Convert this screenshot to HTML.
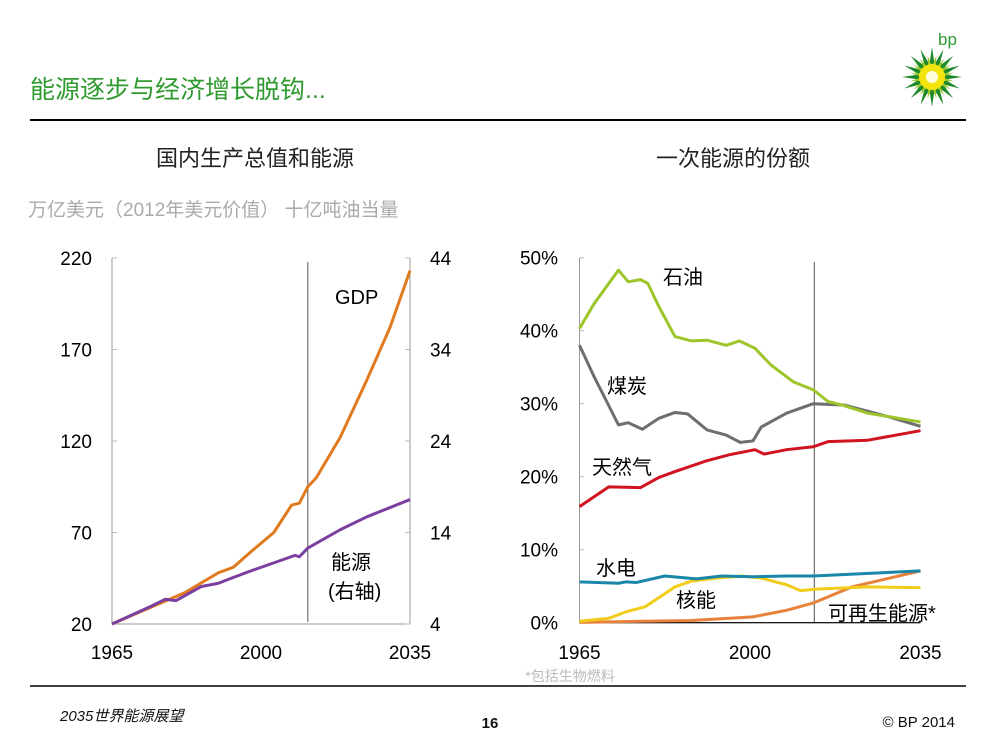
<!DOCTYPE html>
<html><head><meta charset="utf-8">
<style>
body{margin:0;width:1000px;height:750px;background:#fff;overflow:hidden;font-family:"Liberation Sans","Noto Sans CJK SC",sans-serif;}
svg{position:absolute;left:0;top:0}
</style></head>
<body>
<svg id="s" width="1000" height="750" xmlns="http://www.w3.org/2000/svg" font-family="Liberation Sans, Noto Sans CJK SC, sans-serif">
<text x="30" y="98" font-size="25" fill="#2f9a2f">能源逐步与经济增长脱钩...</text>
<g id="logo"></g>
<text x="938" y="45" font-size="17" fill="#2f9a2f">bp</text>
<line x1="30" y1="120" x2="966" y2="120" stroke="#000" stroke-width="2"/>
<text x="255" y="166" font-size="22" text-anchor="middle" fill="#222">国内生产总值和能源</text>
<text x="733" y="166" font-size="22" text-anchor="middle" fill="#222">一次能源的份额</text>
<text x="28" y="216" font-size="19" fill="#aaa">万亿美元（2012年美元价值） 十亿吨油当量</text>
<g id="left"></g>
<g id="right"></g>
<text x="570" y="681" font-size="14" fill="#bbb" text-anchor="middle">*包括生物燃料</text>
<line x1="30" y1="686" x2="966" y2="686" stroke="#000" stroke-width="1.5"/>
<text x="60" y="721" font-size="15" font-style="italic" fill="#111">2035世界能源展望</text>
<text x="490" y="728" font-size="15" font-weight="bold" text-anchor="middle" fill="#111">16</text>
<text x="955" y="727" font-size="15" text-anchor="end" fill="#111">© BP 2014</text>
</svg>
<script>
const gdpYears=[1965,1974,1982,1990,1993.5,1997.4,2003,2007.2,2009,2011,2013,2018.6,2024.8,2030.3,2035];
const gdpValues=[20,29,37,48,51,59,70,85,86,95,100,122,153,182,213];
const energyYears=[1965,1974,1977.5,1980,1986,1990,1993,1997,2008,2009,2011,2018.6,2024.8,2035];
const energyValues=[4,5.9,6.7,6.55,8.1,8.45,9.0,9.7,11.5,11.35,12.3,14.3,15.7,17.6];
const leftTicks=[20,70,120,170,220];
const rightTicks=[4,14,24,34,44];
const yearTicks=[1965,2000,2035];
const shareTicks=[0,10,20,30,40,50];
const oilYears=[1965,1968,1973,1975,1977.5,1979,1981.3,1984.6,1988,1991.2,1995.1,1997.8,2001,2004.3,2008.9,2013,2016,2019,2024.2,2035];
const oilValues=[40.3,43.7,48.3,46.7,47,46.5,43.3,39.2,38.6,38.7,38.0,38.6,37.6,35.3,33.0,31.9,30.3,29.8,28.7,27.5];
const coalYears=[1965,1968,1973,1975,1977.9,1981.3,1984.6,1987.2,1991.2,1995.1,1998,2000.6,2002.3,2007.5,2013,2019.5,2028.5,2035];
const coalValues=[38.0,33.7,27.1,27.4,26.5,28.0,28.8,28.6,26.4,25.7,24.7,24.9,26.8,28.7,30.0,29.8,28.2,26.9];
const gasYears=[1965,1971,1977.5,1981.3,1984.6,1991.2,1995.7,2001,2002.9,2007.5,2013,2016,2024.2,2035];
const gasValues=[15.9,18.6,18.5,19.9,20.7,22.2,23.0,23.7,23.1,23.7,24.1,24.8,25.0,26.3];
const hydroYears=[1965,1973,1974.6,1976.6,1982.5,1989,1994.2,2000.6,2007.5,2013,2035];
const hydroValues=[5.6,5.4,5.6,5.5,6.4,6.0,6.4,6.3,6.4,6.4,7.1];
const nuclearYears=[1965,1971,1974.6,1978.5,1981,1984.6,1988,1993,1998.3,2002.3,2007.5,2010.4,2013.5,2024.2,2035];
const nuclearValues=[0.2,0.6,1.5,2.2,3.3,4.9,5.7,6.1,6.4,6.1,5.2,4.4,4.6,4.9,4.8];
const renewYears=[1965,1988,2000.6,2007.5,2013,2020.9,2035];
const renewValues=[0.05,0.3,0.8,1.7,2.7,4.9,7.1];

const NS="http://www.w3.org/2000/svg";
function mk(parent,tag,attrs,txt){const e=document.createElementNS(NS,tag);for(const k in attrs)e.setAttribute(k,attrs[k]);if(txt!==undefined)e.textContent=txt;parent.appendChild(e);return e;}

// logo
const logo=document.getElementById('logo');
const cx=932,cy=77;
for(let i=0;i<16;i++){const a=i*Math.PI/8;const a1=a-0.2,a2=a+0.2;
 const p=mk(logo,'polygon',{points:`${cx+13*Math.cos(a1)},${cy+13*Math.sin(a1)} ${cx+30*Math.cos(a)},${cy+30*Math.sin(a)} ${cx+13*Math.cos(a2)},${cy+13*Math.sin(a2)}`,fill:'#1f8a2a'});
 
 }
for(let i=0;i<16;i++){const a=i*Math.PI/8+Math.PI/16;const a1=a-0.2,a2=a+0.2;
 const p=mk(logo,'polygon',{points:`${cx+10*Math.cos(a1)},${cy+10*Math.sin(a1)} ${cx+22*Math.cos(a)},${cy+22*Math.sin(a)} ${cx+10*Math.cos(a2)},${cy+10*Math.sin(a2)}`,fill:'#9dc82a'});
 
 }
const c1=mk(logo,'circle',{cx,cy,r:13,fill:'#f2e40c'});


const c2=mk(logo,'circle',{cx,cy,r:6,fill:'#fffde0'});



// left chart
const L=document.getElementById('left');
const lx=y=>112+(y-1965)/70*298;
const ly=v=>624-(v-20)*366/200;
const ry=v=>624-(v-4)*366/40;
const ax=mk(L,'polyline',{points:`112,258 112,624 410,624 410,258`,fill:'none',stroke:'#999','stroke-width':1});


leftTicks.forEach(t=>{const tx=mk(L,'text',{x:92,y:ly(t)+7,'font-size':19,'text-anchor':'end',fill:'#000'},String(t));
 
 
 const tk=mk(L,'line',{x1:112,x2:117,y1:ly(t),y2:ly(t),stroke:'#bbb'});
 
 
 const tk2=mk(L,'line',{x1:405,x2:410,y1:ly(t),y2:ly(t),stroke:'#bbb'});
 
 });
rightTicks.forEach(t=>{const tx=mk(L,'text',{x:430,y:ry(t)+7,'font-size':19,fill:'#000'},String(t));
 
 });
yearTicks.forEach(t=>{const tx=mk(L,'text',{x:lx(t),y:659,'font-size':19,'text-anchor':'middle',fill:'#000'},String(t));
 
 });
const vl=mk(L,'line',{x1:lx(2011),x2:lx(2011),y1:262,y2:622,stroke:'#555','stroke-width':1});


const gl=mk(L,'polyline',{points:gdpYears.map((y,i)=>lx(y)+','+ly(gdpValues[i])).join(' '),fill:'none',stroke:'#e07a1f','stroke-width':3,'stroke-linejoin':'round'});


const el=mk(L,'polyline',{points:energyYears.map((y,i)=>lx(y)+','+ry(energyValues[i])).join(' '),fill:'none',stroke:'#7b3fa0','stroke-width':3,'stroke-linejoin':'round'});


const t1=mk(L,'text',{x:335,y:304,'font-size':20,fill:'#000'},'GDP');


const t2=mk(L,'text',{x:331,y:569,'font-size':20,fill:'#000'},'能源');


const t3=mk(L,'text',{x:328,y:598,'font-size':20,fill:'#000'},'(右轴)');



// right chart
const R=document.getElementById('right');
const sx=y=>579.5+(y-1965)/70*341;
const sy=v=>622.7-v*7.3;
const ax2=mk(R,'polyline',{points:`579.5,258 579.5,622.7 920.5,622.7`,fill:'none',stroke:'#999','stroke-width':1});


const ax3=mk(R,'line',{x1:579.5,x2:920.5,y1:622.7,y2:622.7,stroke:'#000','stroke-width':1.2});


shareTicks.forEach(t=>{const tx=mk(R,'text',{x:558,y:sy(t)+7,'font-size':19,'text-anchor':'end',fill:'#000'},t+'%');
 
 
 const tk=mk(R,'line',{x1:579.5,x2:584,y1:sy(t),y2:sy(t),stroke:'#bbb'});
 
 });
yearTicks.forEach(t=>{const tx=mk(R,'text',{x:sx(t),y:659,'font-size':19,'text-anchor':'middle',fill:'#000'},String(t));
 
 });
const vl2=mk(R,'line',{x1:sx(2013.2),x2:sx(2013.2),y1:262,y2:622,stroke:'#555','stroke-width':1});


const series=[
 [renewYears,renewValues,'#e8823a','renewables-line'],
 [nuclearYears,nuclearValues,'#f2cc1a','nuclear-line'],
 [hydroYears,hydroValues,'#1a86a8','hydro-line'],
 [gasYears,gasValues,'#d0131f','gas-line'],
 [coalYears,coalValues,'#6e6e6e','coal-line'],
 [oilYears,oilValues,'#9cc62a','oil-line']];
series.forEach(s=>{const p=mk(R,'polyline',{points:s[0].map((y,i)=>sx(y)+','+sy(s[1][i])).join(' '),fill:'none',stroke:s[2],'stroke-width':3,'stroke-linejoin':'round'});
 
 });
[['石油',663,284,'oil-label'],['煤炭',607,393,'coal-label'],['天然气',592,474,'gas-label'],['水电',596,575,'hydro-label'],['核能',676,607,'nuclear-label'],['可再生能源*',828,620,'renewables-label']].forEach(l=>{
 const tx=mk(R,'text',{x:l[1],y:l[2],'font-size':20,fill:'#000'},l[0]);
 
 });
</script>
</body></html>
